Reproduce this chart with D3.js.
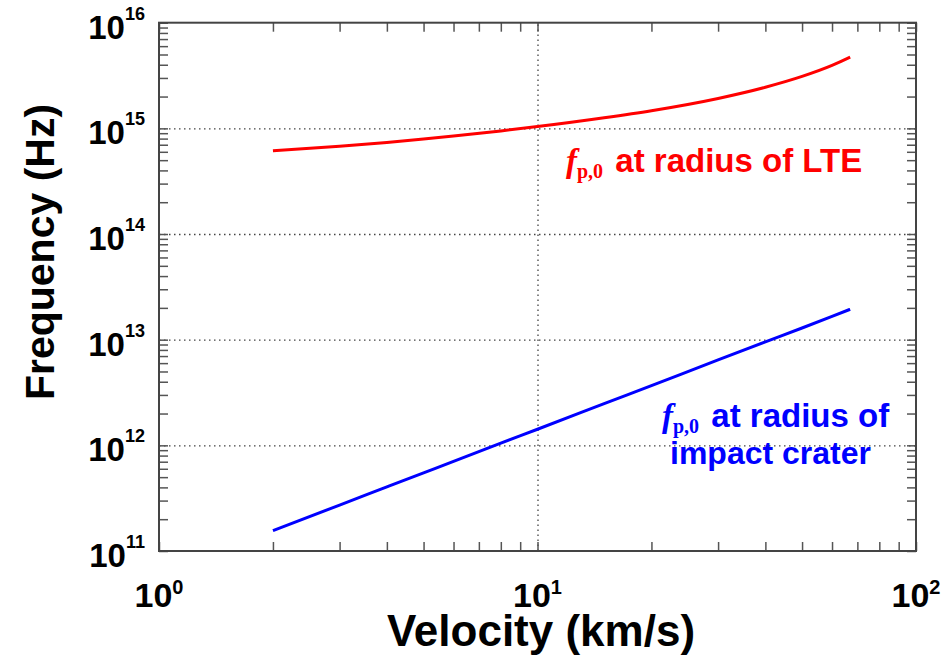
<!DOCTYPE html>
<html>
<head>
<meta charset="utf-8">
<script src="https://cdn.jsdelivr.net/npm/d3@7"></script>
<style>
  body { margin: 0; background: #fff; }
  svg { display: block; font-family: "Liberation Sans", Arial, sans-serif; font-weight: bold; }
  .tick line { stroke: #555; stroke-width: 1.5; }
  .grid line { stroke: #444; stroke-width: 1.3; stroke-dasharray: 1.5,3.5; }
  .domain { display: none; }
</style>
</head>
<body>
<svg width="947" height="657"></svg>
<script>
// velocity samples (km/s)
var velocity = [2, 3, 4, 5, 6, 8, 10, 15, 20, 30, 40, 50, 60, 67];
// f_p,0 at radius of LTE (Hz)
var freqLTE = [6.15e14, 6.78e14, 7.36e14, 7.93e14, 8.46e14, 9.46e14, 1.04e15, 1.26e15, 1.47e15, 1.92e15, 2.45e15, 3.1e15, 3.94e15, 4.72e15];
// f_p,0 at radius of impact crater (Hz)
var freqCrater = [1.56e11, 2.72e11, 4.04e11, 5.49e11, 7.05e11, 1.05e12, 1.42e12, 2.48e12, 3.68e12, 6.43e12, 9.53e12, 1.29e13, 1.66e13, 1.94e13];

var xMajor = [1, 10, 100];
var yMajor = [1e11, 1e12, 1e13, 1e14, 1e15, 1e16];

var svg = d3.select("svg");
var pLeft = 159, pRight = 916, pTop = 22.7, pBottom = 551;

var x = d3.scaleLog().domain([1, 100]).range([pLeft, pRight]);
var y = d3.scaleLog().domain([1e11, 1e16]).range([pBottom, pTop]);

// dotted grid at inner decades
svg.append("g").attr("class", "grid")
    .attr("transform", "translate(0," + pBottom + ")")
    .call(d3.axisBottom(x).tickValues([10]).tickSize(-(pBottom - pTop)).tickFormat(""));
svg.append("g").attr("class", "grid")
    .attr("transform", "translate(" + pLeft + ",0)")
    .call(d3.axisLeft(y).tickValues([1e12, 1e13, 1e14, 1e15]).tickSize(-(pRight - pLeft)).tickFormat(""));

// inward ticks on all four sides
var tk = 9;
svg.append("g").attr("transform", "translate(0," + pBottom + ")")
    .call(d3.axisBottom(x).tickValues(x.ticks()).tickSize(-tk).tickFormat(""));
svg.append("g").attr("transform", "translate(0," + pTop + ")")
    .call(d3.axisTop(x).tickValues(x.ticks()).tickSize(-tk).tickFormat(""));
svg.append("g").attr("transform", "translate(" + pLeft + ",0)")
    .call(d3.axisLeft(y).tickValues(y.ticks()).tickSize(-tk).tickFormat(""));
svg.append("g").attr("transform", "translate(" + pRight + ",0)")
    .call(d3.axisRight(y).tickValues(y.ticks()).tickSize(-tk).tickFormat(""));

// frame
svg.append("rect")
    .attr("x", pLeft).attr("y", pTop)
    .attr("width", pRight - pLeft).attr("height", pBottom - pTop)
    .attr("fill", "none").attr("stroke", "#444").attr("stroke-width", 2);

// curves
var line = d3.line()
    .x(function(d) { return x(d[0]); })
    .y(function(d) { return y(d[1]); })
    .curve(d3.curveMonotoneX);

svg.append("path")
    .datum(d3.zip(velocity, freqLTE))
    .attr("d", line)
    .attr("fill", "none").attr("stroke", "#ff0000").attr("stroke-width", 3);

svg.append("path")
    .datum(d3.zip(velocity, freqCrater))
    .attr("d", line)
    .attr("fill", "none").attr("stroke", "#0000ff").attr("stroke-width", 3);

// tick labels
xMajor.forEach(function(v) {
  var t = svg.append("text")
      .attr("x", x(v)).attr("y", pBottom + 56)
      .attr("text-anchor", "middle")
      .style("font-size", "34px");
  t.append("tspan").text("10");
  t.append("tspan").attr("dy", -13).style("font-size", "20px").text(Math.round(Math.log10(v)));
});

yMajor.forEach(function(v) {
  var t = svg.append("text")
      .attr("x", 145).attr("y", y(v) + 16)
      .attr("text-anchor", "end")
      .style("font-size", "33px");
  t.append("tspan").text("10");
  t.append("tspan").attr("dy", -19).style("font-size", "18px").text(Math.round(Math.log10(v)));
});

// axis titles
svg.append("text")
    .attr("x", 541).attr("y", 646)
    .attr("text-anchor", "middle")
    .style("font-size", "44px")
    .text("Velocity (km/s)");

svg.append("text")
    .attr("transform", "translate(54,252) rotate(-90)")
    .attr("text-anchor", "middle")
    .style("font-size", "41px")
    .text("Frequency (Hz)");

// annotations
function fLabel(xp, yp, color, rest) {
  var t = svg.append("text")
      .attr("x", xp).attr("y", yp)
      .attr("fill", color)
      .style("font-size", "33px");
  t.append("tspan")
      .style("font-family", "'Liberation Serif', 'Times New Roman', serif")
      .style("font-style", "italic").style("font-size", "33px")
      .text("f");
  t.append("tspan")
      .attr("dy", 6)
      .style("font-family", "'Liberation Serif', 'Times New Roman', serif")
      .style("font-weight", "bold").style("font-size", "20px")
      .text("p,0");
  t.append("tspan").attr("dy", -6).attr("dx", 3).text(" " + rest);
  return t;
}

fLabel(566, 172, "#ff0000", "at radius of LTE");
fLabel(662, 427, "#0000ff", "at radius of");
svg.append("text")
    .attr("x", 670).attr("y", 464)
    .attr("fill", "#0000ff")
    .style("font-size", "32px")
    .text("impact crater");
</script>
</body>
</html>
